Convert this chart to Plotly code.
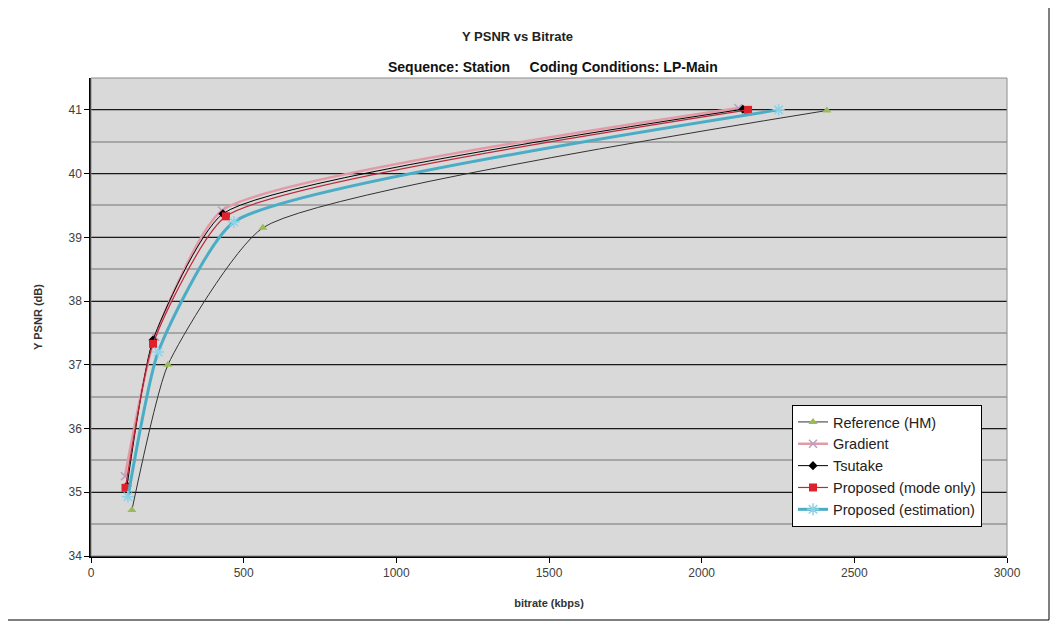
import plotly.graph_objects as go

# Data (bitrate kbps, Y PSNR dB)
ref_rate = [134, 252, 563, 2410]
ref_psnr = [34.72, 37.00, 39.15, 40.99]

grad_rate = [111, 210, 429, 2120]
grad_psnr = [35.25, 37.44, 39.42, 41.03]

tsu_rate = [118, 203, 432, 2135]
tsu_psnr = [35.10, 37.39, 39.37, 41.01]

pmode_rate = [113, 203, 442, 2152]
pmode_psnr = [35.07, 37.33, 39.33, 41.00]

pest_rate = [121, 220, 468, 2252]
pest_psnr = [34.93, 37.20, 39.24, 41.00]

x_ticks = [0, 500, 1000, 1500, 2000, 2500, 3000]
y_ticks = [34, 35, 36, 37, 38, 39, 40, 41]

SM = 0.5

fig = go.Figure()

fig.add_trace(go.Scatter(
    x=ref_rate, y=ref_psnr, name="Reference (HM)", mode="lines+markers",
    line=dict(color="#333333", width=1, shape="spline", smoothing=SM),
    marker=dict(symbol="triangle-up", size=8, color="#9bbb59")))

fig.add_trace(go.Scatter(
    x=grad_rate, y=grad_psnr, name="Gradient", mode="lines+markers",
    line=dict(color="#e39aa6", width=2.5, shape="spline", smoothing=SM),
    marker=dict(symbol="x-thin-open", size=8, color="#b8a0c0",
                line=dict(color="#b8a0c0", width=1.5))))

fig.add_trace(go.Scatter(
    x=tsu_rate, y=tsu_psnr, name="Tsutake", mode="lines+markers",
    line=dict(color="#000000", width=1, shape="spline", smoothing=SM),
    marker=dict(symbol="diamond", size=7, color="#000000")))

fig.add_trace(go.Scatter(
    x=pmode_rate, y=pmode_psnr, name="Proposed (mode only)", mode="lines+markers",
    line=dict(color="#c0283a", width=1.2, shape="spline", smoothing=SM),
    marker=dict(symbol="square", size=8, color="#e0202a")))

fig.add_trace(go.Scatter(
    x=pest_rate, y=pest_psnr, name="Proposed (estimation)", mode="lines+markers",
    line=dict(color="#4bacc6", width=3, shape="spline", smoothing=SM),
    marker=dict(symbol="asterisk-open", size=10, color="#8ed2e6",
                line=dict(color="#8ed2e6", width=1.5))))

# page offset of the figure (body margin)
OFF = 8
W, H = 1042, 614
L, T = 91 - OFF, 78 - OFF
R = W - (1007 - OFF)
B = H - (556 - OFF)
pw, ph = W - L - R, H - T - B

def px(xpage):
    return (xpage - OFF - L) / pw

def py(ypage):
    return (H - B - (ypage - OFF)) / ph

fig.update_layout(
    width=W, height=H,
    margin=dict(l=L, r=R, t=T, b=B),
    paper_bgcolor="white",
    plot_bgcolor="#d9d9d9",
    font=dict(family="Liberation Sans, Arial", size=11, color="#333333"),
    showlegend=True,
    legend=dict(
        x=px(792), y=py(405), xanchor="left", yanchor="top",
        bgcolor="white", bordercolor="#000000", borderwidth=1,
        font=dict(family="Liberation Sans, Arial", size=14.5, color="#222222"),
        itemwidth=30, tracegroupgap=0,
    ),
    xaxis=dict(
        range=[0, 3000], tickvals=x_ticks, ticktext=[str(v) for v in x_ticks],
        showgrid=False, zeroline=False,
        showline=True, linecolor="#000000", linewidth=1.5,
        ticks="outside", ticklen=5, tickcolor="#000000",
        tickfont=dict(size=12, color="#404040"),
        title=dict(text="<b>bitrate (kbps)</b>", font=dict(size=11, color="#333333"), standoff=20),
    ),
    yaxis=dict(
        range=[34, 41.5], tickvals=y_ticks, ticktext=[str(v) for v in y_ticks],
        showgrid=True, gridcolor="#1a1a1a", gridwidth=1,
        minor=dict(dtick=0.5, tick0=34, showgrid=True, gridcolor="#a6a6a6", gridwidth=1.5),
        zeroline=False,
        showline=True, linecolor="#000000", linewidth=1.5,
        ticks="outside", ticklen=5, tickcolor="#000000",
        tickfont=dict(size=12, color="#404040"),
        title=dict(text="<b>Y PSNR (dB)</b>", font=dict(size=11, color="#333333"), standoff=24),
    ),
    annotations=[
        dict(text="<b>Y PSNR vs Bitrate</b>", xref="paper", yref="paper",
             x=px(517), y=py(36), xanchor="center", yanchor="middle", showarrow=False,
             font=dict(family="Liberation Sans, Arial", size=13, color="#222222")),
        dict(text="<b>Sequence: Station&nbsp;&nbsp;&nbsp;&nbsp;&nbsp;Coding Conditions: LP-Main</b>",
             xref="paper", yref="paper",
             x=px(553), y=py(67), xanchor="center", yanchor="middle", showarrow=False,
             font=dict(family="Liberation Sans Narrow, Liberation Sans", size=14, color="#111111")),
    ],
    shapes=[
        dict(type="rect", xref="paper", yref="paper", x0=0, x1=1, y0=0, y1=1,
             line=dict(color="#8c8c8c", width=1), fillcolor="rgba(0,0,0,0)", layer="above"),
        dict(type="rect", xref="paper", yref="paper",
             x0=px(7.5), x1=px(1049), y0=py(620), y1=py(1),
             line=dict(color="#000000", width=1), fillcolor="rgba(0,0,0,0)"),
    ],
)

fig.write_html("out.html")
